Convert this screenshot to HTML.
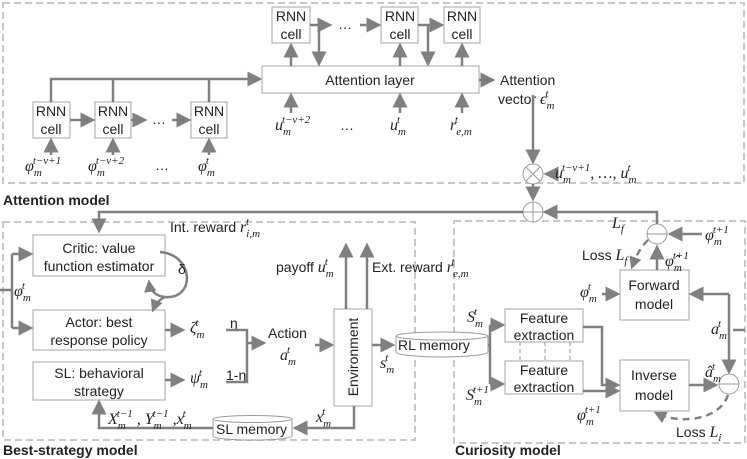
<!DOCTYPE html>
<html><head><meta charset="utf-8"><style>
body{margin:0;background:#fff}
svg{display:block}
text{font-family:"Liberation Sans",sans-serif;font-size:14px;fill:#222}
.m{font-family:"Liberation Serif",serif;font-style:italic;font-size:16px}
.s{font-size:11px}
.b{fill:none;stroke:#a6a6a6;stroke-width:1}
.l{fill:none;stroke:#808080;stroke-width:2.5}
.d{fill:none;stroke:#c8c8c8;stroke-width:2;stroke-dasharray:7,4}
.dd{fill:none;stroke:#808080;stroke-width:2.5;stroke-dasharray:7,5}
</style></head><body>
<svg width="747" height="459" viewBox="0 0 747 459" xmlns="http://www.w3.org/2000/svg">
<defs><marker id="a" markerWidth="6" markerHeight="6" refX="5" refY="3" orient="auto" markerUnits="strokeWidth"><path d="M0,0L6,3L0,6z" fill="#808080"/></marker>
<marker id="a2" markerWidth="5" markerHeight="5" refX="4" refY="2.5" orient="auto" markerUnits="strokeWidth"><path d="M0,0L5,2.5L0,5z" fill="#808080"/></marker></defs>

<rect class="d" x="3" y="3" width="741" height="180"/>
<rect class="d" x="3" y="222" width="412" height="218"/>
<rect class="d" x="454" y="221" width="291" height="222"/>
<text x="3" y="205" style="font-weight:bold">Attention model</text>
<text x="3" y="455" style="font-weight:bold">Best-strategy model</text>
<text x="455" y="455" style="font-weight:bold">Curiosity model</text>

<rect class="b" x="33" y="102" width="37" height="36"/><text x="51" y="116" text-anchor="middle">RNN</text><text x="51" y="134" text-anchor="middle">cell</text>
<rect class="b" x="95" y="102" width="36" height="36"/><text x="113" y="116" text-anchor="middle">RNN</text><text x="113" y="134" text-anchor="middle">cell</text>
<rect class="b" x="191" y="102" width="36" height="36"/><text x="209" y="116" text-anchor="middle">RNN</text><text x="209" y="134" text-anchor="middle">cell</text>
<path class="l" d="M70,120H93" marker-end="url(#a)"/>
<path class="l" d="M131,120H145" marker-end="url(#a)"/>
<text x="152" y="124">…</text>
<path class="l" d="M172,120H189" marker-end="url(#a)"/>
<path class="l" d="M51,102V79H260" marker-end="url(#a)"/>
<path class="l" d="M113,102V79M209,102V79"/>
<path class="l" d="M51,155V140" marker-end="url(#a)"/>
<path class="l" d="M113,155V140" marker-end="url(#a)"/>
<path class="l" d="M209,155V140" marker-end="url(#a)"/>
<text class="m" x="25" y="171">φ<tspan class="s" dy="5">m</tspan><tspan class="s" dx="-9" dy="-12">t−ν+1</tspan></text>
<text class="m" x="88" y="171">φ<tspan class="s" dy="5">m</tspan><tspan class="s" dx="-9" dy="-12">t−ν+2</tspan></text>
<text x="155" y="170">…</text>
<text class="m" x="198" y="171">φ<tspan class="s" dy="5">m</tspan><tspan class="s" dx="-9" dy="-12">t</tspan></text>

<rect class="b" x="262" y="66" width="217" height="27"/>
<text x="370" y="85" text-anchor="middle">Attention layer</text>
<rect class="b" x="272" y="7" width="38" height="36"/><text x="291" y="21" text-anchor="middle">RNN</text><text x="291" y="39" text-anchor="middle">cell</text>
<rect class="b" x="381" y="7" width="37" height="36"/><text x="400" y="21" text-anchor="middle">RNN</text><text x="400" y="39" text-anchor="middle">cell</text>
<rect class="b" x="444" y="7" width="36" height="36"/><text x="462" y="21" text-anchor="middle">RNN</text><text x="462" y="39" text-anchor="middle">cell</text>
<path class="l" d="M310,25H330" marker-end="url(#a)"/>
<text x="338" y="29">…</text>
<path class="l" d="M360,25H379" marker-end="url(#a)"/>
<path class="l" d="M418,25H442" marker-end="url(#a)"/>
<path class="l" d="M319,25V64" marker-end="url(#a)"/>
<path class="l" d="M428,25V64" marker-end="url(#a)"/>
<path class="l" d="M291,66V45" marker-end="url(#a)"/>
<path class="l" d="M400,66V45" marker-end="url(#a)"/>
<path class="l" d="M462,66V45" marker-end="url(#a)"/>
<path class="l" d="M291,113V95" marker-end="url(#a)"/>
<path class="l" d="M400,113V95" marker-end="url(#a)"/>
<path class="l" d="M462,113V95" marker-end="url(#a)"/>
<text class="m" x="275" y="130">u<tspan class="s" dy="5">m</tspan><tspan class="s" dx="-9" dy="-12">t−ν+2</tspan></text>
<text x="340" y="130">…</text>
<text class="m" x="390" y="130">u<tspan class="s" dy="5">m</tspan><tspan class="s" dx="-9" dy="-12">t</tspan></text>
<text class="m" x="450" y="130">r<tspan class="s" dy="5">e,m</tspan><tspan class="s" dx="-17" dy="-12">t</tspan></text>
<path class="l" d="M479,80H493" marker-end="url(#a)"/>
<text x="500" y="85">Attention</text>
<text x="498" y="104">vector <tspan class="m">ϵ</tspan><tspan class="m s" dy="5">m</tspan><tspan class="m s" dx="-9" dy="-12">t</tspan></text>
<path class="l" d="M533,95V162" marker-end="url(#a)"/>
<circle cx="533" cy="174" r="10" fill="#fff" stroke="#999"/>
<path d="M526,167L540,181M540,167L526,181" stroke="#999"/>
<path class="l" d="M555,174H546" marker-end="url(#a)"/>
<text class="m" x="555" y="178">u<tspan class="s" dy="5">m</tspan><tspan class="s" dx="-9" dy="-12">t−ν+1</tspan><tspan dy="7">, …, u</tspan><tspan class="s" dy="5">m</tspan><tspan class="s" dx="-9" dy="-12">t</tspan></text>
<path class="l" d="M533,184V199" marker-end="url(#a)"/>
<circle cx="533" cy="212" r="10" fill="#fff" stroke="#999"/>
<path d="M523,212H543M533,202V222" stroke="#999"/>

<path class="l" d="M523,212H99V231" marker-end="url(#a)"/>
<text x="170" y="232">Int. reward <tspan class="m">r</tspan><tspan class="m s" dy="5">i,m</tspan><tspan class="m s" dx="-14" dy="-12">t</tspan></text>
<rect class="b" x="33" y="235" width="132" height="41"/>
<text x="99" y="253" text-anchor="middle">Critic: value</text>
<text x="99" y="271" text-anchor="middle">function estimator</text>
<rect class="b" x="33" y="310" width="132" height="40"/>
<text x="99" y="327" text-anchor="middle">Actor: best</text>
<text x="99" y="345" text-anchor="middle">response policy</text>
<rect class="b" x="33" y="362" width="132" height="38"/>
<text x="99" y="378" text-anchor="middle">SL: behavioral</text>
<text x="99" y="396" text-anchor="middle">strategy</text>
<path class="l" d="M0,290H12"/>
<path class="l" d="M12,254V328"/>
<path class="l" d="M12,254H31" marker-end="url(#a)"/>
<path class="l" d="M12,328H31" marker-end="url(#a)"/>
<text class="m" x="14" y="296">φ<tspan class="s" dy="5">m</tspan><tspan class="s" dx="-9" dy="-12">t</tspan></text>
<path class="l" d="M160,252C195,255 195,300 165,297C155,296 150,290 149,282" marker-end="url(#a2)"/>
<path class="l" d="M165,297C158,300 155,305 153,310" marker-end="url(#a2)"/>
<text x="178" y="274">δ</text>
<path class="l" d="M165,330H183" marker-end="url(#a)"/>
<path class="l" d="M165,380H183" marker-end="url(#a)"/>
<text class="m" x="190" y="333">ζ<tspan class="s" dy="5">m</tspan><tspan class="s" dx="-9" dy="-12">t</tspan></text>
<text class="m" x="190" y="383">ψ<tspan class="s" dy="5">m</tspan><tspan class="s" dx="-9" dy="-12">t</tspan></text>
<text x="230" y="328">η</text>
<text x="226" y="380">1-η</text>
<path class="l" d="M226,330H247V382H226"/>
<path class="l" d="M247,343H264" marker-end="url(#a)"/>
<text x="268" y="338">Action</text>
<text class="m" x="280" y="360">a<tspan class="s" dy="5">m</tspan><tspan class="s" dx="-9" dy="-12">t</tspan></text>
<path class="l" d="M315,345H332" marker-end="url(#a)"/>
<rect class="b" x="334" y="309" width="38" height="97"/>
<text transform="translate(358,357) rotate(-90)" text-anchor="middle">Environment</text>
<path class="l" d="M346,309V245" marker-end="url(#a)"/>
<path class="l" d="M367,309V245" marker-end="url(#a)"/>
<text x="276" y="272">payoff <tspan class="m">u</tspan><tspan class="m s" dy="5">m</tspan><tspan class="m s" dx="-9" dy="-12">t</tspan></text>
<text x="372" y="272">Ext. reward <tspan class="m">r</tspan><tspan class="m s" dy="5">e,m</tspan><tspan class="m s" dx="-17" dy="-12">t</tspan></text>
<path class="l" d="M372,345H393" marker-end="url(#a)"/>
<text class="m" x="380" y="368">s<tspan class="s" dy="5">m</tspan><tspan class="s" dx="-9" dy="-12">t</tspan></text>
<path d="M396,336V352A46,5 0 0 0 488,352V336" fill="#fff" stroke="#999"/>
<ellipse cx="442" cy="336" rx="46" ry="4" fill="#fff" stroke="#999"/>
<text x="398" y="350">RL memory</text>
<path class="l" d="M354,406V428H295" marker-end="url(#a)"/>
<text class="m" x="316" y="422">x<tspan class="s" dy="5">m</tspan><tspan class="s" dx="-9" dy="-12">t</tspan></text>
<path d="M213,419V436A39,4 0 0 0 292,436V419" fill="#fff" stroke="#999"/>
<ellipse cx="252.5" cy="419" rx="39.5" ry="3.5" fill="#fff" stroke="#999"/>
<text x="216" y="434">SL memory</text>
<path class="l" d="M213,428H99V402" marker-end="url(#a)"/>
<text class="m" x="108" y="424">X<tspan class="s" dy="5">m</tspan><tspan class="s" dx="-9" dy="-12">t−1</tspan><tspan dy="7"> , Y</tspan><tspan class="s" dy="5">m</tspan><tspan class="s" dx="-9" dy="-12">t−1</tspan><tspan dy="7"> ,x</tspan><tspan class="s" dy="5">m</tspan><tspan class="s" dx="-9" dy="-12">t</tspan></text>

<path class="l" d="M488,345H490M490,325V384"/>
<path class="l" d="M490,325H503" marker-end="url(#a)"/>
<path class="l" d="M490,384H503" marker-end="url(#a)"/>
<text class="m" x="467" y="322">S<tspan class="s" dy="5">m</tspan><tspan class="s" dx="-9" dy="-12">t</tspan></text>
<text class="m" x="466" y="400">S<tspan class="s" dy="5">m</tspan><tspan class="s" dx="-9" dy="-12">t+1</tspan></text>
<rect class="b" x="505" y="309" width="78" height="33"/>
<text x="544" y="323" text-anchor="middle">Feature</text><text x="544" y="340" text-anchor="middle">extraction</text>
<rect class="b" x="505" y="361" width="78" height="33"/>
<text x="544" y="375" text-anchor="middle">Feature</text><text x="544" y="392" text-anchor="middle">extraction</text>
<path d="M520,342V361M545,342V361M570,342V361" stroke="#999" stroke-dasharray="4,3"/>
<path class="l" d="M583,327H602V385H618" marker-end="url(#a)"/>
<path class="l" d="M602,294H618" marker-end="url(#a)"/>
<path class="l" d="M583,391H618" marker-end="url(#a)"/>
<text class="m" x="580" y="297">φ<tspan class="s" dy="5">m</tspan><tspan class="s" dx="-9" dy="-12">t</tspan></text>
<text class="m" x="577" y="420">φ<tspan class="s" dy="5">m</tspan><tspan class="s" dx="-9" dy="-12">t+1</tspan></text>
<rect class="b" x="620" y="270" width="69" height="50"/>
<text x="654" y="290" text-anchor="middle">Forward</text><text x="654" y="309" text-anchor="middle">model</text>
<rect class="b" x="620" y="360" width="69" height="51"/>
<text x="654" y="380" text-anchor="middle">Inverse</text><text x="654" y="400" text-anchor="middle">model</text>
<circle cx="657" cy="234" r="10" fill="#fff" stroke="#999"/>
<path d="M647,234H667" stroke="#999"/>
<path class="l" d="M657,224V212H545" marker-end="url(#a)"/>
<text class="m" x="612" y="228">L<tspan class="s" dy="4">f</tspan></text>
<path class="l" d="M657,270V247" marker-end="url(#a)"/>
<text class="m" x="665" y="266">φ̂<tspan class="s" dy="5">m</tspan><tspan class="s" dx="-9" dy="-12">t+1</tspan></text>
<path class="l" d="M702,234H670" marker-end="url(#a)"/>
<text class="m" x="705" y="240">φ<tspan class="s" dy="5">m</tspan><tspan class="s" dx="-9" dy="-12">t+1</tspan></text>
<path class="dd" d="M648,240C640,248 636,256 632,267" marker-end="url(#a2)"/>
<text x="582" y="260">Loss <tspan class="m">L</tspan><tspan class="m s" dy="4">f</tspan></text>
<path class="l" d="M729,294H691" marker-end="url(#a)"/>
<path class="l" d="M729,294V372" marker-end="url(#a)"/>
<path class="l" d="M733,330H745"/>
<text class="m" x="711" y="334">a<tspan class="s" dy="5">m</tspan><tspan class="s" dx="-9" dy="-12">t</tspan></text>
<circle cx="729" cy="384" r="10" fill="#fff" stroke="#999"/>
<path d="M719,384H739" stroke="#999"/>
<path class="l" d="M689,385H716" marker-end="url(#a)"/>
<text class="m" x="705" y="377">â<tspan class="s" dy="5">m</tspan><tspan class="s" dx="-9" dy="-12">t</tspan></text>
<path class="dd" d="M728,395C720,420 680,425 656,413" marker-end="url(#a2)"/>
<text x="676" y="437">Loss <tspan class="m">L</tspan><tspan class="m s" dy="4">i</tspan></text>
</svg>
</body></html>
